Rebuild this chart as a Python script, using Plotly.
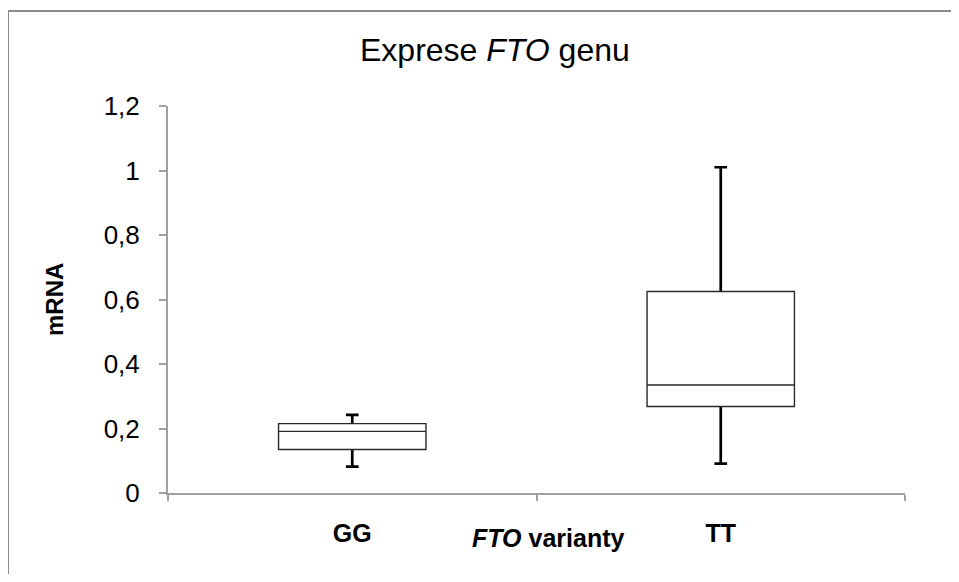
import plotly.graph_objects as go

# Data
categories = ["GG", "TT"]
lower_whisker = [0.082, 0.091]
q1_values = [0.135, 0.268]
median_values = [0.191, 0.335]
q3_values = [0.215, 0.625]
upper_whisker = [0.242, 1.01]

y_tickvals = [0, 0.2, 0.4, 0.6, 0.8, 1.0, 1.2]
y_ticktext = ["0", "0,2", "0,4", "0,6", "0,8", "1", "1,2"]

FONT = "Liberation Sans, Arial, sans-serif"
AXIS_GRAY = "#a0a0a0"
FRAME_GRAY = "#8a8a8a"

fig = go.Figure()

# Thick whiskers with caps (box collapsed onto the median, hidden by the box on top)
fig.add_trace(go.Box(
    x=categories,
    q1=median_values,
    median=median_values,
    q3=median_values,
    lowerfence=lower_whisker,
    upperfence=upper_whisker,
    width=0.4,
    whiskerwidth=0.086,
    line=dict(color="#000000", width=2.7),
    fillcolor="rgba(0,0,0,0)",
    boxpoints=False,
    showlegend=False,
    hoverinfo="skip",
))

# Boxes with median line
fig.add_trace(go.Box(
    x=categories,
    q1=q1_values,
    median=median_values,
    q3=q3_values,
    lowerfence=q1_values,
    upperfence=q3_values,
    width=0.4,
    whiskerwidth=0,
    line=dict(color="#2a2a2a", width=1.4),
    fillcolor="#ffffff",
    boxpoints=False,
    showlegend=False,
))

frame_left = (8 - 168) / 737
frame_top = (493 - 11) / 387

fig.update_layout(
    width=951,
    height=566,
    margin=dict(l=160, r=54, t=98, b=81),
    paper_bgcolor="#ffffff",
    plot_bgcolor="#ffffff",
    boxmode="overlay",
    showlegend=False,
    font=dict(family=FONT, color="#000000"),
    xaxis=dict(
        type="category",
        categoryorder="array",
        categoryarray=categories,
        range=[-0.5, 1.5],
        tickson="boundaries",
        ticks="outside",
        ticklen=6,
        tickcolor=AXIS_GRAY,
        tickwidth=1.5,
        showline=True,
        linecolor=AXIS_GRAY,
        linewidth=2,
        showgrid=False,
        zeroline=False,
        tickfont=dict(family=FONT, size=25, color="#000000", weight="bold"),
        ticklabelstandoff=17,
    ),
    yaxis=dict(
        range=[0, 1.2],
        tickmode="array",
        tickvals=y_tickvals,
        ticktext=y_ticktext,
        ticks="outside",
        ticklen=7,
        tickcolor=AXIS_GRAY,
        tickwidth=1.5,
        showline=True,
        linecolor=AXIS_GRAY,
        linewidth=2,
        showgrid=False,
        zeroline=False,
        tickfont=dict(family=FONT, size=26, color="#000000"),
        ticklabelstandoff=14,
    ),
    annotations=[
        dict(
            text="Exprese <i>FTO</i> genu",
            xref="paper", yref="paper",
            x=(495 - 168) / 737, y=(493 - 50) / 387,
            xanchor="center", yanchor="middle",
            showarrow=False,
            font=dict(family=FONT, size=32, color="#000000"),
        ),
        dict(
            text="<b>mRNA</b>",
            xref="paper", yref="paper",
            x=(54 - 168) / 737, y=(493 - 300) / 387,
            xanchor="center", yanchor="middle",
            textangle=-90,
            showarrow=False,
            font=dict(family=FONT, size=24, color="#000000"),
        ),
        dict(
            text="<b><i>FTO</i> varianty</b>",
            xref="paper", yref="paper",
            x=(547.5 - 168) / 737, y=(493 - 538) / 387,
            xanchor="center", yanchor="middle",
            showarrow=False,
            font=dict(family=FONT, size=25, color="#000000"),
        ),
    ],
    shapes=[
        dict(
            type="line",
            xref="paper", yref="paper",
            x0=frame_left, x1=1.3,
            y0=frame_top, y1=frame_top,
            line=dict(color=FRAME_GRAY, width=2),
            layer="below",
        ),
        dict(
            type="line",
            xref="paper", yref="paper",
            x0=frame_left, x1=frame_left,
            y0=-0.5, y1=frame_top,
            line=dict(color=FRAME_GRAY, width=2),
            layer="below",
        ),
    ],
)

fig.write_html("out.html")
